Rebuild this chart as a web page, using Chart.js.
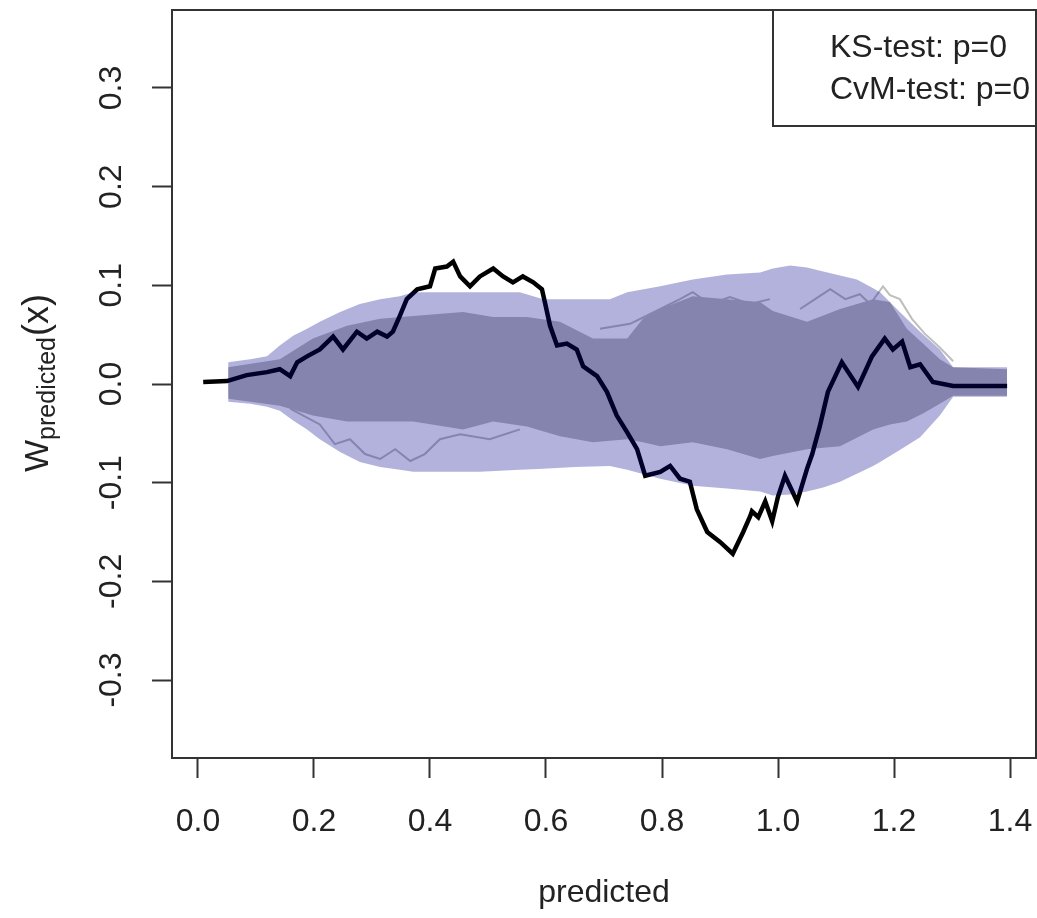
<!DOCTYPE html>
<html>
<head>
<meta charset="utf-8">
<script src="https://cdn.jsdelivr.net/npm/chart.js@4.4.0/dist/chart.umd.min.js"></script>
<style>
html, body { margin:0; padding:0; background:#fff; }
#box { width:1037px; height:918px; }
</style>
</head>
<body>
<div id="box"><canvas id="grafico" width="1037" height="918"></canvas></div>
<script>
// processo osservato (linea nera)
var obsX = [0.009,0.050,0.084,0.119,0.141,0.159,0.171,0.188,0.210,0.233,0.250,0.274,0.291,0.309,0.326,0.336,0.348,0.360,0.378,0.400,0.409,0.429,0.440,0.452,0.469,0.486,0.509,0.526,0.543,0.560,0.578,0.593,0.598,0.607,0.619,0.636,0.653,0.664,0.688,0.705,0.722,0.740,0.757,0.771,0.797,0.814,0.831,0.848,0.860,0.878,0.900,0.922,0.940,0.952,0.955,0.966,0.978,0.990,1.000,1.012,1.033,1.050,1.059,1.072,1.086,1.110,1.138,1.162,1.184,1.198,1.214,1.228,1.245,1.267,1.302,1.395];
var obsY = [0.002,0.003,0.009,0.012,0.015,0.008,0.022,0.028,0.035,0.048,0.035,0.053,0.046,0.053,0.048,0.053,0.069,0.086,0.096,0.099,0.117,0.119,0.124,0.109,0.099,0.109,0.117,0.109,0.103,0.109,0.103,0.096,0.083,0.059,0.039,0.041,0.035,0.018,0.008,-0.008,-0.032,-0.049,-0.066,-0.093,-0.089,-0.083,-0.096,-0.099,-0.127,-0.150,-0.160,-0.172,-0.150,-0.134,-0.129,-0.135,-0.119,-0.139,-0.114,-0.093,-0.119,-0.086,-0.071,-0.043,-0.008,0.022,-0.003,0.028,0.046,0.035,0.043,0.017,0.020,0.002,-0.002,-0.002];

// banda di confidenza
var bandX = [0.052,0.090,0.119,0.141,0.164,0.188,0.210,0.245,0.279,0.314,0.348,0.371,0.417,0.486,0.555,0.595,0.650,0.710,0.740,0.797,0.853,0.912,0.969,0.991,1.021,1.050,1.078,1.107,1.136,1.164,1.176,1.210,1.245,1.279,1.302,1.395];
var bandUp = [0.022,0.025,0.028,0.039,0.049,0.056,0.063,0.073,0.081,0.086,0.089,0.093,0.093,0.093,0.093,0.086,0.086,0.086,0.093,0.099,0.106,0.111,0.113,0.117,0.120,0.118,0.114,0.110,0.106,0.097,0.093,0.073,0.053,0.035,0.017,0.017];
var bandLow = [-0.018,-0.020,-0.023,-0.027,-0.037,-0.046,-0.056,-0.069,-0.079,-0.084,-0.087,-0.089,-0.089,-0.089,-0.087,-0.086,-0.084,-0.083,-0.087,-0.096,-0.103,-0.106,-0.109,-0.113,-0.112,-0.109,-0.105,-0.099,-0.091,-0.083,-0.079,-0.067,-0.054,-0.032,-0.013,-0.013];

// zona dei processi simulati (grigi)
var simX = [0.052,0.141,0.198,0.257,0.314,0.371,0.457,0.509,0.567,0.624,0.681,0.740,0.767,0.797,0.853,0.912,0.969,0.991,1.050,1.107,1.164,1.193,1.222,1.250,1.279,1.302,1.395];
var simUp = [0.017,0.025,0.046,0.059,0.066,0.069,0.073,0.068,0.068,0.063,0.046,0.046,0.066,0.076,0.089,0.086,0.083,0.074,0.063,0.076,0.086,0.083,0.056,0.041,0.025,0.017,0.015];
var simLow = [-0.015,-0.022,-0.032,-0.038,-0.038,-0.038,-0.046,-0.038,-0.043,-0.053,-0.059,-0.056,-0.059,-0.063,-0.059,-0.066,-0.076,-0.073,-0.066,-0.063,-0.046,-0.041,-0.038,-0.030,-0.020,-0.012,-0.012];

// alcuni processi simulati isolati
var simAX = [0.159,0.210,0.236,0.262,0.288,0.314,0.340,0.366,0.391,0.417,0.452,0.503,0.555];
var simAY = [-0.025,-0.041,-0.061,-0.056,-0.071,-0.076,-0.066,-0.078,-0.071,-0.056,-0.051,-0.056,-0.046];
var simBX = [1.038,1.064,1.090,1.116,1.141,1.159,1.181,1.193,1.210,1.231,1.253,1.279,1.302];
var simBY = [0.076,0.086,0.096,0.086,0.091,0.081,0.099,0.090,0.086,0.066,0.051,0.037,0.023];
var simCX = [0.693,0.745,0.797,0.831,0.853,0.883,0.917,0.952,0.986];
var simCY = [0.056,0.061,0.076,0.086,0.093,0.081,0.088,0.081,0.086];

var xTicks = [0.0,0.2,0.4,0.6,0.8,1.0,1.2,1.4];
var yTicks = [-0.3,-0.2,-0.1,0.0,0.1,0.2,0.3];
var testi = ["KS-test: p=0", "CvM-test: p=0"];

var FONT = "'Liberation Sans', Arial, sans-serif";
var GRIGIO = "rgb(190,190,190)";

function punti(xs, ys){
    let p = [];
    for(let i=0; i<xs.length; i++) p.push({x: xs[i], y: ys[i]});
    return p;
}

// azzero i margini che Chart.js aggiunge per le etichette
function fissa(s, dim, val){
    s[dim] = val;
    s.paddingTop = 0; s.paddingBottom = 0;
    s.paddingLeft = 0; s.paddingRight = 0;
}

// cornice, etichetta asse y e riquadro con i test
var cornice = {
    id: "cornice",
    afterDraw(chart){
        let ctx = chart.ctx, a = chart.chartArea;
        ctx.save();
        ctx.strokeStyle = "#333";
        ctx.lineWidth = 2;
        ctx.strokeRect(a.left, a.top, a.right - a.left, a.bottom - a.top);

        // riquadro legenda
        ctx.strokeRect(773, a.top, 300, 116);
        ctx.fillStyle = "#222";
        ctx.font = "32px " + FONT;
        ctx.textBaseline = "middle";
        ctx.textAlign = "left";
        ctx.fillText(testi[0], 830, 48);
        ctx.fillText(testi[1], 830, 90);

        // W_predicted(x)
        ctx.translate(48, 472);
        ctx.rotate(-Math.PI/2);
        ctx.textBaseline = "alphabetic";
        ctx.font = "34px " + FONT;
        ctx.fillText("W", 0, 0);
        let w = ctx.measureText("W").width;
        ctx.font = "25px " + FONT;
        ctx.fillText("predicted", w, 7);
        let w2 = ctx.measureText("predicted").width;
        ctx.font = "36px " + FONT;
        ctx.fillText("(x)", w + w2 + 1, 0);
        ctx.restore();
    }
};

window.onload = function(){
    let canvas = document.getElementById("grafico");

    let dati = {
        datasets: [
            {   // banda: bordo superiore, riempita fino al bordo inferiore
                data: punti(bandX, bandUp),
                borderColor: "rgba(0,0,0,0)", borderWidth: 0,
                backgroundColor: "rgba(0,0,139,0.3)",
                fill: "+1", pointRadius: 0, order: 0
            },
            {
                data: punti(bandX, bandLow),
                borderColor: "rgba(0,0,0,0)", borderWidth: 0,
                fill: false, pointRadius: 0, order: 0
            },
            {   // processo osservato
                data: punti(obsX, obsY),
                borderColor: "#000", borderWidth: 4.5,
                borderJoinStyle: "miter",
                fill: false, pointRadius: 0, order: 1
            },
            {
                data: punti(simAX, simAY),
                borderColor: GRIGIO, borderWidth: 2,
                fill: false, pointRadius: 0, order: 2
            },
            {
                data: punti(simBX, simBY),
                borderColor: GRIGIO, borderWidth: 2,
                fill: false, pointRadius: 0, order: 2
            },
            {
                data: punti(simCX, simCY),
                borderColor: GRIGIO, borderWidth: 2,
                fill: false, pointRadius: 0, order: 2
            },
            {   // zona densa dei processi simulati
                data: punti(simX, simUp),
                borderColor: "rgba(0,0,0,0)", borderWidth: 0,
                backgroundColor: GRIGIO,
                fill: "+1", pointRadius: 0, order: 3
            },
            {
                data: punti(simX, simLow),
                borderColor: "rgba(0,0,0,0)", borderWidth: 0,
                fill: false, pointRadius: 0, order: 3
            }
        ]
    };

    new Chart(canvas, {
        type: "line",
        data: dati,
        plugins: [cornice],
        options: {
            responsive: false,
            animation: false,
            layout: { padding: { top: 10, right: 1, left: 0, bottom: 0 } },
            plugins: { legend: { display: false }, tooltip: { enabled: false } },
            elements: { line: { tension: 0 } },
            scales: {
                x: {
                    type: "linear",
                    min: -0.0448, max: 1.4448,
                    afterBuildTicks: s => { s.ticks = xTicks.map(v => ({value: v})); },
                    afterFit: s => fissa(s, "height", 160),
                    grid: { drawOnChartArea: false, drawTicks: true, tickLength: 20, tickColor: "#333", tickWidth: 2 },
                    border: { display: false },
                    ticks: {
                        color: "#222", padding: 25, maxRotation: 0, autoSkip: false,
                        font: { family: FONT, size: 32 },
                        callback: v => v.toFixed(1)
                    },
                    title: {
                        display: true, text: "predicted", color: "#222",
                        font: { family: FONT, size: 32 },
                        padding: { top: 0, bottom: 6 }
                    }
                },
                y: {
                    type: "linear",
                    min: -0.379, max: 0.379,
                    afterBuildTicks: s => { s.ticks = yTicks.map(v => ({value: v})); },
                    afterFit: s => fissa(s, "width", 172),
                    grid: { drawOnChartArea: false, drawTicks: true, tickLength: 20, tickColor: "#333", tickWidth: 2 },
                    border: { display: false },
                    ticks: {
                        color: "#222", padding: 12, minRotation: 90, maxRotation: 90,
                        crossAlign: "center", autoSkip: false,
                        font: { family: FONT, size: 32 },
                        callback: v => v.toFixed(1)
                    }
                }
            }
        }
    });
};
</script>
</body>
</html>
